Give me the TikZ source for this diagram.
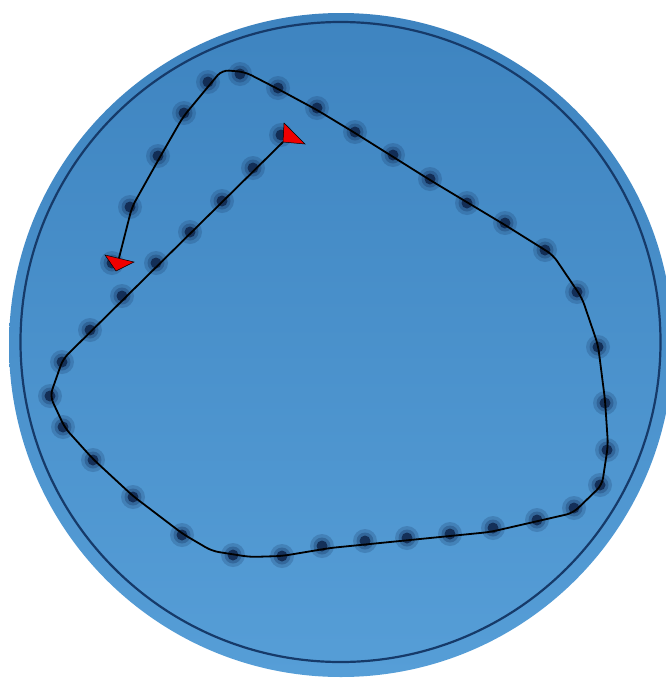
\documentclass[tikz,border=0pt]{standalone}
\usetikzlibrary{calc}
\definecolor{disktop}{RGB}{62,132,192}
\definecolor{diskbot}{RGB}{86,158,215}
\definecolor{ringcol}{RGB}{22,58,105}
\definecolor{halo}{RGB}{20,50,95}
\definecolor{core}{RGB}{8,25,60}
\definecolor{mkred}{RGB}{240,0,0}
\tikzset{
  halodot/.style={circle,minimum size=0pt,inner sep=0pt},
  trackline/.style={draw=black,line width=1.8pt,rounded corners=7pt,line join=round},
  marker/.style={fill=mkred,draw=black,line width=0.5pt,line join=miter}
}
\newcommand{\mydot}[3]{%
  \fill[halo,fill opacity=0.22] (#2,#3) circle (12);
  \fill[halo,fill opacity=0.32] (#2,#3) circle (8.5);
  \fill[core,fill opacity=0.7] (#2,#3) circle (5.5);
  \node[halodot] (#1) at (#2,#3) {};
}
\begin{document}
\begin{tikzpicture}[x=1pt,y=-1pt]
\clip (0,0) rectangle (666,678);
\fill[white] (0,0) rectangle (666,678);
% dish
\shade[top color=disktop,bottom color=diskbot] (341,345) circle (332);
\draw[ringcol,line width=2.2pt] (340.5,342) circle (320);
% dots
\mydot{d1}{281}{135}
\mydot{d2}{253}{168}
\mydot{d3}{222}{201}
\mydot{d4}{190}{232}
\mydot{d5}{156}{263}
\mydot{d6}{122}{296}
\mydot{d7}{90}{330}
\mydot{d8}{62}{362}
\mydot{d9}{50}{396}
\mydot{d10}{63}{427}
\mydot{d11}{93}{460}
\mydot{d12}{133}{497}
\mydot{d13}{182}{535}
\mydot{d14}{233}{555}
\mydot{d15}{282}{556}
\mydot{d16}{322}{546}
\mydot{d17}{365}{541}
\mydot{d18}{407}{538}
\mydot{d19}{450}{534}
\mydot{d20}{493}{528}
\mydot{d21}{537}{520}
\mydot{d22}{574}{508}
\mydot{d23}{600}{485}
\mydot{d24}{607}{450}
\mydot{d25}{605}{403}
\mydot{d26}{598}{347}
\mydot{d27}{577}{292}
\mydot{d28}{545}{250}
\mydot{d29}{505}{223}
\mydot{d30}{467}{203}
\mydot{d31}{430}{179}
\mydot{d32}{393}{155}
\mydot{d33}{355}{132}
\mydot{d34}{317}{108}
\mydot{d35}{278}{88}
\mydot{d36}{240}{74}
\mydot{d37}{208}{82}
\mydot{d38}{184}{113}
\mydot{d39}{158}{156}
\mydot{d40}{130}{207}
\mydot{d41}{112}{263}
% track waypoints
\coordinate (w1) at (283,142);
\coordinate (w2) at (63,359);
\coordinate (w3) at (50,396);
\coordinate (w4) at (65,428);
\coordinate (w5) at (93,459);
\coordinate (w6) at (133,496);
\coordinate (w7) at (183,534);
\coordinate (w8) at (212,551);
\coordinate (w9) at (250,557);
\coordinate (w10) at (282,556);
\coordinate (w11) at (330,548);
\coordinate (w12) at (490,532);
\coordinate (w13) at (573,513);
\coordinate (w14) at (602,485);
\coordinate (w15) at (608,445);
\coordinate (w16) at (605,400);
\coordinate (w17) at (598,345);
\coordinate (w18) at (582,298);
\coordinate (w19) at (553,255);
\coordinate (w20) at (505,225);
\coordinate (w21) at (430,180);
\coordinate (w22) at (355,133);
\coordinate (w23) at (317,110);
\coordinate (w24) at (278,89);
\coordinate (w25) at (245,72);
\coordinate (w26) at (222,70);
\coordinate (w27) at (207,88);
\coordinate (w28) at (183,117);
\coordinate (w29) at (160,157);
\coordinate (w30) at (132,207);
\coordinate (w31) at (119,258);
\draw[trackline] (w1) -- (w2) -- (w3) -- (w4) -- (w5) -- (w6) -- (w7) -- (w8) -- (w9) -- (w10) -- (w11) -- (w12) -- (w13) -- (w14) -- (w15) -- (w16) -- (w17) -- (w18) -- (w19) -- (w20) -- (w21) -- (w22) -- (w23) -- (w24) -- (w25) -- (w26) -- (w27) -- (w28) -- (w29) -- (w30) -- (w31);
% markers
\filldraw[marker] (284,123) -- (305,144) -- (283,142) -- cycle;
\filldraw[marker] (105,255) -- (134,262) -- (116,271) -- cycle;
\end{tikzpicture}
\end{document}
